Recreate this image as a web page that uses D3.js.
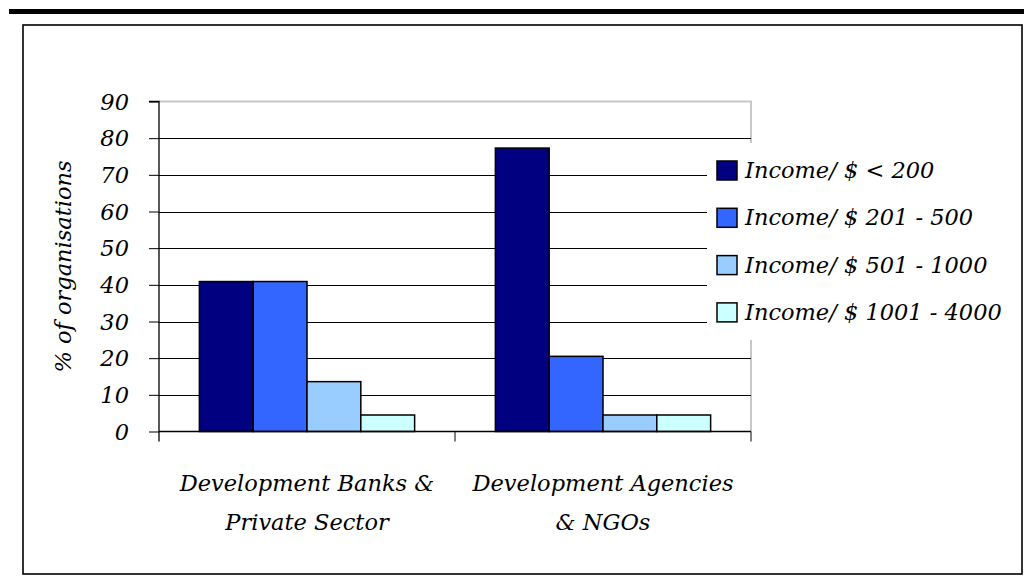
<!DOCTYPE html>
<html>
<head>
<meta charset="utf-8">
<script src="https://cdn.jsdelivr.net/npm/d3@7"></script>
<style>
  html, body { margin: 0; padding: 0; background: #fff; }
  svg { display: block; }
</style>
</head>
<body>
<svg id="chart" width="1024" height="583"></svg>
<script>
// Income bands per organisation type (% of organisations)
const categories = [
  ["Development Banks &", "Private Sector"],
  ["Development Agencies", "& NGOs"]
];
const seriesNames = [
  "Income/ $ < 200",
  "Income/ $ 201 - 500",
  "Income/ $ 501 - 1000",
  "Income/ $ 1001 - 4000"
];
const seriesColors = ["#000080", "#3366FF", "#99CCFF", "#CCFFFF"];
// values[series][category]
const values = [
  [40.9, 77.3],
  [40.9, 20.5],
  [13.6, 4.5],
  [4.5, 4.5]
];
const yTicks = [0, 10, 20, 30, 40, 50, 60, 70, 80, 90];

const FONT = "'DejaVu Serif', serif";
const FS = 22.5;

const svg = d3.select("#chart");
const W = 1024;

// top rule and outer frame
svg.append("rect").attr("x", 9).attr("y", 9).attr("width", W - 9).attr("height", 5).attr("fill", "#000");
svg.append("rect").attr("x", 23).attr("y", 25).attr("width", 999).attr("height", 549)
  .attr("fill", "#fff").attr("stroke", "#000").attr("stroke-width", 1.6);

const plot = { left: 159, right: 751, top: 101.5, bottom: 431.5 };

const catKeys = categories.map((c, i) => i);
const x0 = d3.scaleBand().domain(catKeys).range([plot.left, plot.right]).padding(0);
const x1 = d3.scaleBand().domain(d3.range(seriesNames.length))
  .range([0, x0.bandwidth()]).paddingInner(0).paddingOuter(0.75);
const y = d3.scaleLinear().domain([0, 90]).range([plot.bottom, plot.top]);

function styleText(sel) {
  return sel.attr("font-family", null)
    .style("font-family", FONT).style("font-style", "italic")
    .style("font-size", FS + "px").style("fill", "#000");
}

// plot area border (light grey top and right)
svg.append("path")
  .attr("d", `M${plot.left},${plot.top}H${plot.right}V${plot.bottom}`)
  .attr("fill", "none").attr("stroke", "#c8c8c8").attr("stroke-width", 2);

// gridlines
svg.append("g").selectAll("line").data(yTicks.filter(t => t > 0 && t < 90)).join("line")
  .attr("x1", plot.left).attr("x2", plot.right)
  .attr("y1", d => Math.round(y(d)) + 0.5).attr("y2", d => Math.round(y(d)) + 0.5)
  .attr("stroke", "#000").attr("stroke-width", 1);

// bars
const groups = svg.append("g").selectAll("g").data(catKeys).join("g")
  .attr("transform", d => `translate(${x0(d)},0)`);
groups.selectAll("rect").data(c => values.map((s, i) => ({ s: i, v: s[c] }))).join("rect")
  .attr("x", d => x1(d.s))
  .attr("y", d => y(d.v))
  .attr("width", x1.bandwidth())
  .attr("height", d => y(0) - y(d.v))
  .attr("fill", d => seriesColors[d.s])
  .attr("stroke", "#000").attr("stroke-width", 1.5);

// y axis
const yAxis = d3.axisLeft(y).tickValues(yTicks).tickSize(10).tickPadding(20).tickFormat(d3.format("d"));
const gy = svg.append("g").attr("transform", `translate(${plot.left},0)`).call(yAxis);
gy.attr("font-family", null).attr("font-size", null);
gy.select(".domain").attr("d", `M-10,${plot.top}H0V${plot.bottom + 10}`).attr("stroke", "#000").attr("stroke-width", 1.3);
gy.selectAll(".tick line").attr("stroke", "#000");
styleText(gy.selectAll(".tick text")).attr("dy", "0.34em");

// x axis
const gx = svg.append("g").attr("transform", `translate(0,${plot.bottom})`);
gx.append("line").attr("x1", plot.left).attr("x2", plot.right).attr("y1", 0).attr("y2", 0)
  .attr("stroke", "#000").attr("stroke-width", 1.3);
gx.selectAll("line.tk").data(catKeys.map(k => x0(k) + x0.bandwidth())).join("line")
  .attr("class", "tk").attr("x1", d => d).attr("x2", d => d).attr("y1", 0).attr("y2", 10)
  .attr("stroke", "#000");
const xl = styleText(gx.selectAll("text").data(catKeys).join("text"))
  .attr("text-anchor", "middle")
  .attr("transform", d => `translate(${x0(d) + x0.bandwidth() / 2},0)`);
xl.selectAll("tspan").data(d => categories[d]).join("tspan")
  .attr("x", 0).attr("y", (d, i) => 59 + i * 39).text(d => d);

// y axis title
styleText(svg.append("text"))
  .attr("transform", `translate(71,${(plot.top + plot.bottom) / 2}) rotate(-90)`)
  .attr("text-anchor", "middle")
  .text("% of organisations");

// legend
const legend = svg.append("g").attr("transform", "translate(707,143)");
legend.append("rect").attr("width", 300).attr("height", 197).attr("fill", "#fff");
const li = legend.selectAll("g").data(seriesNames).join("g")
  .attr("transform", (d, i) => `translate(0,${27.5 + i * 47.3})`);
li.append("rect").attr("x", 10).attr("y", -9.5).attr("width", 20).attr("height", 19)
  .attr("fill", (d, i) => seriesColors[i]).attr("stroke", "#000").attr("stroke-width", 1.5);
styleText(li.append("text")).attr("x", 38).attr("dy", "0.34em").text(d => d);
</script>
</body>
</html>
